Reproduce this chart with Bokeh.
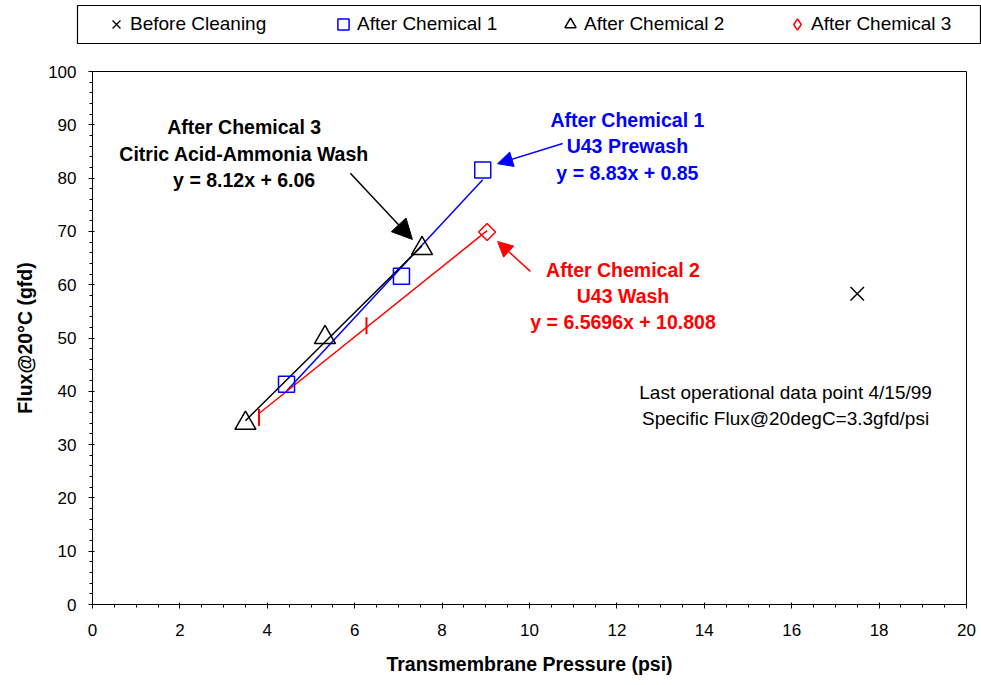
import numpy as np
from bokeh.plotting import figure
from bokeh.layouts import column
from bokeh.models import (Legend, LegendItem, Label, Arrow, NormalHead,
                          SingleIntervalTicker)
from bokeh.embed import file_html
from bokeh.resources import INLINE

# ---------------- data ----------------
before_x = [17.50]
before_y = [58.3]

chem1_x = [4.44, 7.07, 8.93]          # blue squares
chem1_y = [41.3, 61.6, 81.5]
chem1_fit = [8.83, 0.85]

chem2_x = [3.50, 5.32, 7.54]          # black triangles
chem2_y = [34.0, 50.1, 66.8]
chem2_fit = [8.12, 6.06]

chem3_x = [3.81, 6.27, 9.03]          # red
chem3_y = [35.1, 52.3, 69.9]
chem3_fit = [6.5696, 10.808]

legend_labels = ["Before Cleaning", "After Chemical 1", "After Chemical 2", "After Chemical 3"]

FONT = "Liberation Sans"

# marker styles shared between plot and legend strip
STY_BEFORE = dict(marker="x", line_color="black", line_width=1.5)
STY_C1 = dict(marker="square", line_color="#0000FF", fill_alpha=0, line_width=1.5)
STY_C2 = dict(marker="triangle", line_color="black", fill_alpha=0, line_width=1.5)
STY_C3 = dict(marker="square", angle=np.pi / 4, line_color="#FF0000", fill_alpha=0,
              line_width=1.5)

# ---------------- main plot ----------------
p = figure(width=981, height=637, x_range=(0, 20), y_range=(0, 100),
           output_backend="svg", toolbar_location=None,
           min_border_left=92, min_border_right=15, min_border_top=23, min_border_bottom=81)
p.frame_align = False

p.xgrid.visible = False
p.ygrid.visible = False
p.outline_line_color = "black"
p.outline_line_width = 1
p.outline_line_alpha = 1

p.xaxis.ticker = SingleIntervalTicker(interval=2, num_minor_ticks=4)
p.yaxis.ticker = SingleIntervalTicker(interval=10, num_minor_ticks=5)
for ax in (p.xaxis[0], p.yaxis[0]):
    ax.axis_line_color = "black"
    ax.major_tick_line_color = "black"
    ax.minor_tick_line_color = "black"
    ax.major_tick_in = 2
    ax.major_tick_out = 4
    ax.minor_tick_in = 0
    ax.minor_tick_out = 3
    ax.major_label_text_font = FONT
    ax.major_label_text_font_size = "17px"
    ax.major_label_text_color = "black"
    ax.axis_label_text_font = FONT
    ax.axis_label_text_font_size = "19.5px"
    ax.axis_label_text_font_style = "bold"
    ax.axis_label_text_color = "black"

p.xaxis.axis_label = "Transmembrane Pressure (psi)"
p.yaxis.axis_label = "Flux@20°C (gfd)"
p.xaxis.major_label_standoff = 15
p.yaxis.major_label_standoff = 12
p.xaxis.axis_label_standoff = 14
p.yaxis.axis_label_standoff = 9


def fit_line(xs, coef):
    xx = np.array([min(xs), max(xs)])
    return xx, np.polyval(coef, xx)


# trend lines
fx, fy = fit_line(chem1_x, chem1_fit)
p.line(fx, fy, line_color="#0000FF", line_width=1.5)
fx, fy = fit_line(chem2_x, chem2_fit)
p.line(fx, fy, line_color="black", line_width=1.5)
fx, fy = fit_line(chem3_x, chem3_fit)
p.line(fx, fy, line_color="#FF0000", line_width=1.5)

# markers
p.scatter(before_x, before_y, size=19, **STY_BEFORE)
p.scatter(chem1_x, chem1_y, size=16, **STY_C1)
p.scatter(chem2_x, chem2_y, size=21, **STY_C2)
p.scatter(chem3_x[:2], chem3_y[:2], marker="dash", angle=np.pi / 2, size=17,
          line_color="#FF0000", line_width=2)
p.scatter(chem3_x[2:], chem3_y[2:], size=12, **STY_C3)

# arrows
p.add_layout(Arrow(end=NormalHead(size=20, fill_color="black", line_color="black"),
                   x_start=5.90, y_start=80.9, x_end=7.32, y_end=68.5,
                   line_color="black", line_width=1.5))
p.add_layout(Arrow(end=NormalHead(size=15, fill_color="#0000FF", line_color="#0000FF"),
                   x_start=10.76, y_start=86.5, x_end=9.27, y_end=82.7,
                   line_color="#0000FF", line_width=1.5))
p.add_layout(Arrow(end=NormalHead(size=15, fill_color="#FF0000", line_color="#FF0000"),
                   x_start=10.02, y_start=62.5, x_end=9.27, y_end=68.1,
                   line_color="#FF0000", line_width=1.5))


def add_lines(x, ys, texts, color, bold=True, size="19.5px"):
    for y, t in zip(ys, texts):
        p.add_layout(Label(x=x, y=y, text=t, text_align="center", text_baseline="middle",
                           text_font=FONT, text_font_size=size,
                           text_font_style="bold" if bold else "normal",
                           text_color=color))


add_lines(3.47, [89.55, 84.55, 79.55],
          ["After Chemical 3", "Citric Acid-Ammonia Wash", "y = 8.12x + 6.06"], "black")
add_lines(12.24, [90.9, 85.95, 80.9],
          ["After Chemical 1", "U43 Prewash", "y = 8.83x + 0.85"], "#0000FF")
add_lines(12.14, [62.85, 57.95, 52.95],
          ["After Chemical 2", "U43 Wash", "y = 6.5696x + 10.808"], "#FF0000")
add_lines(15.86, [39.8, 34.85],
          ["Last operational data point 4/15/99", "Specific Flux@20degC=3.3gfd/psi"],
          "black", bold=False, size="19px")

# ---------------- legend strip ----------------
# the strip's own ranges keep the (real) series points outside its frame;
# only its legend is visible
lg = figure(width=981, height=48, x_range=(0, 1), y_range=(0, 1),
            x_axis_type=None, y_axis_type=None,
            output_backend="svg", toolbar_location=None,
            min_border_left=77, min_border_right=1, min_border_top=5, min_border_bottom=5)
lg.frame_align = False
lg.outline_line_color = "black"
lg.outline_line_width = 1.2
lg.outline_line_alpha = 1
lg.xgrid.visible = False
lg.ygrid.visible = False

l0 = lg.scatter(before_x, before_y, size=19, marker="x", line_color="black", line_width=1.3)
l1 = lg.scatter(chem1_x, chem1_y, size=16, **STY_C1)
l2 = lg.scatter(chem2_x, chem2_y, size=21, **STY_C2)
l3 = lg.scatter(chem3_x[2:], chem3_y[2:], size=12, marker="diamond", line_color="#FF0000",
                fill_alpha=0, line_width=1.5)

legend = Legend(items=[LegendItem(label=legend_labels[0], renderers=[l0]),
                       LegendItem(label=legend_labels[1], renderers=[l1]),
                       LegendItem(label=legend_labels[2], renderers=[l2]),
                       LegendItem(label=legend_labels[3], renderers=[l3])],
                orientation="horizontal", location=(0, -20), margin=0,
                padding=25, spacing=49, glyph_width=28, glyph_height=28,
                label_standoff=0, label_width=150, label_height=20,
                label_text_font=FONT, label_text_font_size="19px",
                label_text_color="black",
                border_line_alpha=0, background_fill_alpha=0)
lg.add_layout(legend, "center")

layout = column(lg, p, spacing=0)
open("out.html", "w").write(file_html(layout, INLINE))
